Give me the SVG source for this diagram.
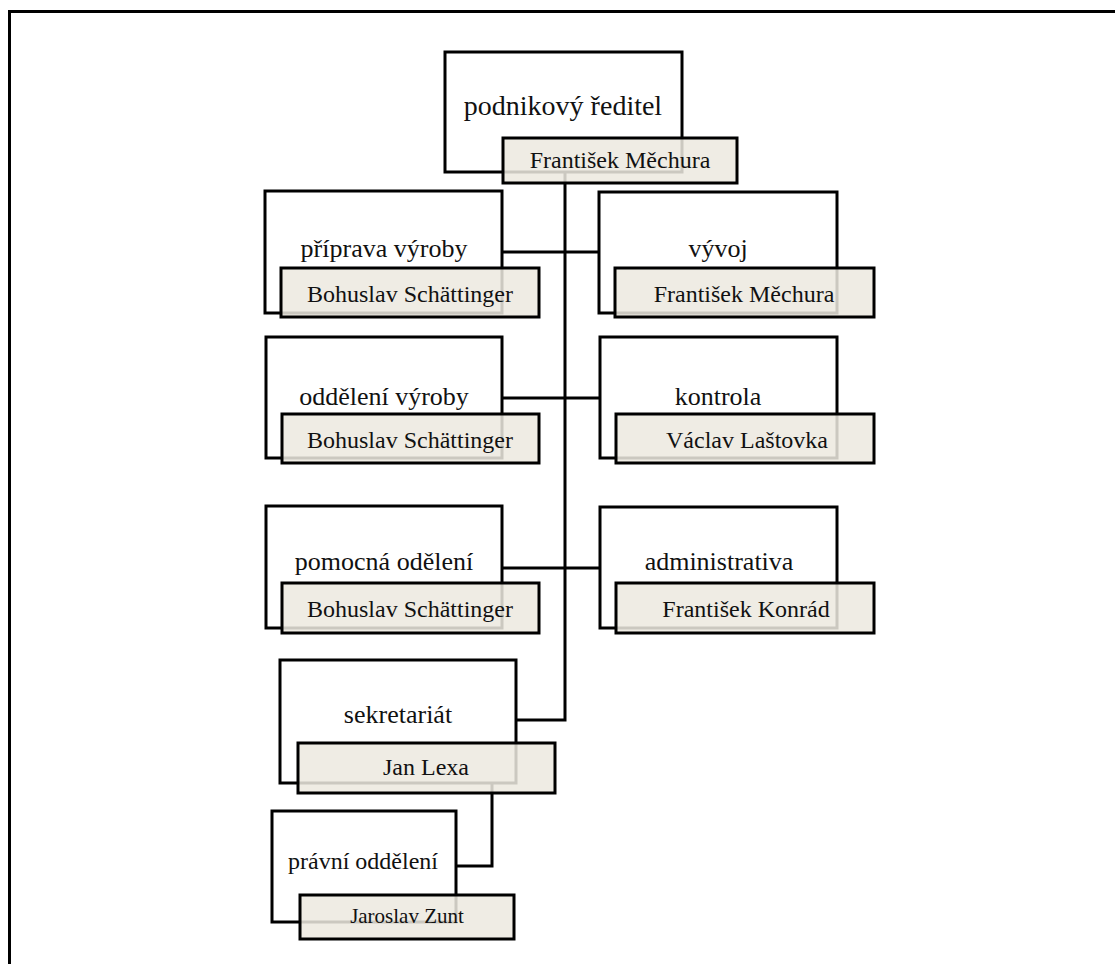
<svg xmlns="http://www.w3.org/2000/svg" width="1115" height="964" viewBox="0 0 1115 964">
  <style>
    .unit { fill: #ffffff; stroke: #000000; stroke-width: 3; }
    .name { fill: #ece9e0; fill-opacity: 0.86; stroke: #000000; stroke-width: 3; }
    .title { font-family: "Liberation Serif", "Times New Roman", serif; font-size: 26px; fill: #111111; text-anchor: middle; }
    .person { font-family: "Liberation Serif", "Times New Roman", serif; font-size: 24px; fill: #111111; text-anchor: middle; }
    .link { fill: none; stroke: #000000; stroke-width: 3; }
    .frame { fill: none; stroke: #000000; stroke-width: 3; }
  </style>
  <rect width="1115" height="964" fill="#ffffff"/>

  <!-- page frame (top and left edges) -->
  <path class="frame" d="M9.5 964 V11.5 H1115"/>

  <!-- connectors -->
  <g id="connectors">
    <path class="link" d="M565 172 V720 H516"/>
    <path class="link" d="M502 252 H599"/>
    <path class="link" d="M502 398 H600"/>
    <path class="link" d="M502 568 H600"/>
    <path class="link" d="M492 783 V866 H456"/>
  </g>

  <!-- director -->
  <g id="node-reditel">
    <rect class="unit" x="445" y="52" width="237" height="120"/>
    <text class="title" x="563" y="115" font-size="28" style="font-size:28px">podnikový ředitel</text>
    <rect class="name" x="503" y="138" width="234" height="45"/>
    <text class="person" x="620" y="168">František Měchura</text>
  </g>

  <!-- left column -->
  <g id="node-priprava">
    <rect class="unit" x="265" y="191" width="237" height="122"/>
    <text class="title" x="384" y="257">příprava výroby</text>
    <rect class="name" x="281" y="268" width="258" height="49"/>
    <text class="person" x="410" y="302">Bohuslav Schättinger</text>
  </g>

  <g id="node-vyroba">
    <rect class="unit" x="266" y="337" width="236" height="121"/>
    <text class="title" x="384" y="405">oddělení výroby</text>
    <rect class="name" x="282" y="414" width="257" height="49"/>
    <text class="person" x="410" y="448">Bohuslav Schättinger</text>
  </g>

  <g id="node-pomocna">
    <rect class="unit" x="266" y="506" width="236" height="122"/>
    <text class="title" x="384" y="570">pomocná odělení</text>
    <rect class="name" x="282" y="583" width="257" height="50"/>
    <text class="person" x="410" y="617">Bohuslav Schättinger</text>
  </g>

  <!-- right column -->
  <g id="node-vyvoj">
    <rect class="unit" x="599" y="192" width="238" height="121"/>
    <text class="title" x="718" y="257">vývoj</text>
    <rect class="name" x="615" y="268" width="259" height="49"/>
    <text class="person" x="744" y="302">František Měchura</text>
  </g>

  <g id="node-kontrola">
    <rect class="unit" x="600" y="337" width="237" height="121"/>
    <text class="title" x="718" y="405">kontrola</text>
    <rect class="name" x="616" y="414" width="258" height="49"/>
    <text class="person" x="747" y="448">Václav Laštovka</text>
  </g>

  <g id="node-administrativa">
    <rect class="unit" x="600" y="507" width="237" height="121"/>
    <text class="title" x="719" y="570">administrativa</text>
    <rect class="name" x="616" y="583" width="258" height="50"/>
    <text class="person" x="746" y="617">František Konrád</text>
  </g>

  <!-- secretariat and legal -->
  <g id="node-sekretariat">
    <rect class="unit" x="280" y="660" width="236" height="123"/>
    <text class="title" x="398" y="723">sekretariát</text>
    <rect class="name" x="298" y="743" width="257" height="50"/>
    <text class="person" x="426" y="775">Jan Lexa</text>
  </g>

  <g id="node-pravni">
    <rect class="unit" x="272" y="811" width="184" height="111"/>
    <text class="title" x="363" y="869" style="font-size:24px">právní oddělení</text>
    <rect class="name" x="300" y="895" width="214" height="44"/>
    <text class="person" x="407" y="923" style="font-size:21px">Jaroslav Zunt</text>
  </g>
</svg>
